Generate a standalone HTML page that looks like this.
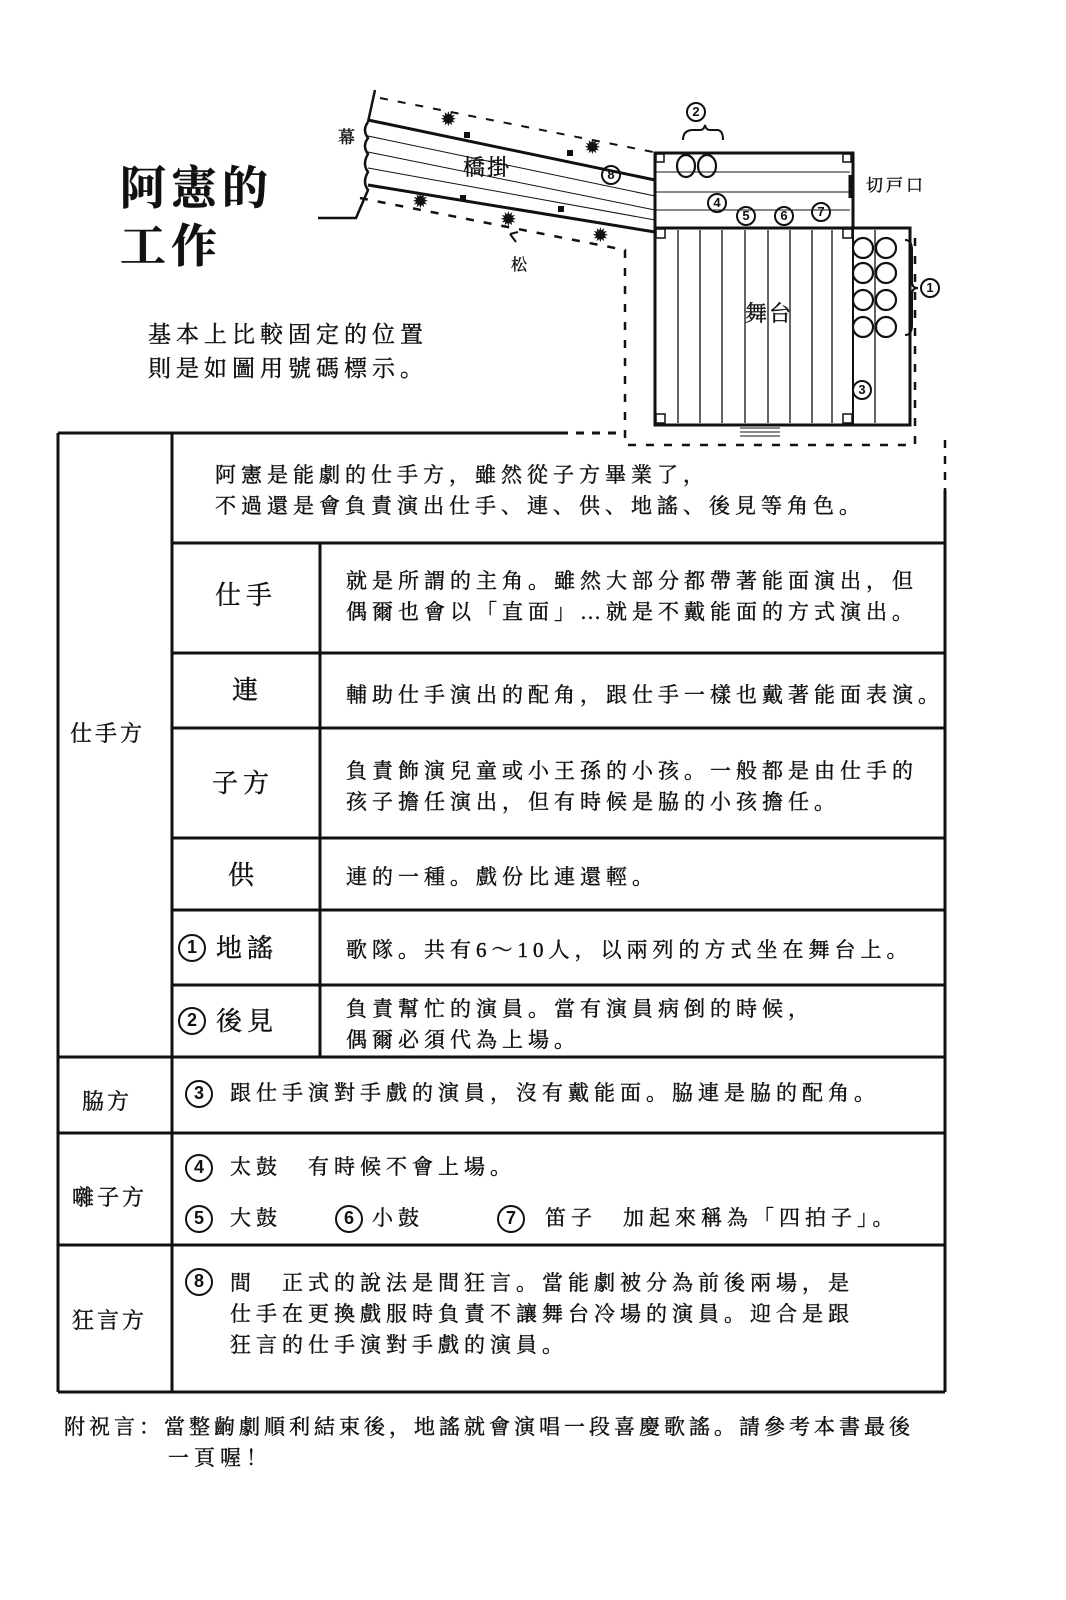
<!DOCTYPE html>
<html><head><meta charset="utf-8"><style>
body{margin:0;background:#fff;}
#c{position:relative;width:1066px;height:1600px;overflow:hidden;font-family:"Liberation Serif","Noto Serif CJK SC","Noto Sans CJK TC",serif;color:#111;}
.t{position:absolute;white-space:nowrap;font-size:21px;letter-spacing:5px;line-height:31px;-webkit-text-stroke:0.4px #111;}
.n{position:absolute;box-sizing:border-box;border:2.5px solid #111;border-radius:50%;text-align:center;font-family:"Liberation Sans",sans-serif;font-weight:bold;}
.b{width:28px;height:28px;line-height:23px;font-size:18px;}
.s{width:20px;height:20px;line-height:16px;font-size:13px;border-width:2px;}
svg{position:absolute;left:0;top:0;}
</style></head><body><div id="c">
<svg width="1066" height="1600" viewBox="0 0 1066 1600" fill="none" stroke="#111">
<path d="M375 90 L368 122 M368 122 Q362 130 368 138 Q362 146 368 154 Q362 164 368 172 Q362 182 368 190 L356 218 L318 218" stroke-width="2.5"/>
<line x1="368" y1="120" x2="655" y2="180" stroke-width="3"/>
<line x1="368" y1="136" x2="655" y2="196"/>
<line x1="368" y1="152" x2="655" y2="210"/>
<line x1="368" y1="168" x2="655" y2="220"/>
<line x1="368" y1="185" x2="655" y2="232" stroke-width="3"/>
<line x1="380" y1="98" x2="653" y2="152" stroke-dasharray="8 10" stroke-width="2"/>
<path d="M360 198 L625 250 L625 445 L915 445 L915 228" stroke-dasharray="8 10" stroke-width="2.5"/>
<rect x="655" y="153" width="198" height="75" stroke-width="3"/>
<line x1="655" y1="172" x2="850" y2="172"/><line x1="655" y1="192" x2="850" y2="192"/><line x1="655" y1="210" x2="850" y2="210"/>
<line x1="851" y1="175" x2="851" y2="198" stroke-width="5"/>
<rect x="655" y="228" width="255" height="197" stroke-width="3"/>
<line x1="853" y1="228" x2="853" y2="425" stroke-width="2"/>
<g stroke-width="1.3"><line x1="678" y1="230" x2="678" y2="423"/><line x1="700" y1="230" x2="700" y2="423"/><line x1="722" y1="230" x2="722" y2="423"/><line x1="745" y1="230" x2="745" y2="423"/><line x1="768" y1="230" x2="768" y2="423"/><line x1="790" y1="230" x2="790" y2="423"/><line x1="812" y1="230" x2="812" y2="423"/><line x1="832" y1="230" x2="832" y2="423"/><line x1="875" y1="230" x2="875" y2="423"/></g>
<g stroke-width="1.5"><rect x="656" y="229" width="9" height="9"/><rect x="843" y="229" width="9" height="9"/><rect x="656" y="414" width="9" height="9"/><rect x="843" y="414" width="9" height="9"/><rect x="656" y="154" width="8" height="8"/><rect x="843" y="154" width="8" height="8"/></g>
<line x1="740" y1="428" x2="780" y2="428"/><line x1="740" y1="432" x2="780" y2="432"/><line x1="740" y1="436" x2="780" y2="436"/>
<g stroke-width="2.2"><ellipse cx="686" cy="166" rx="9" ry="11"/><ellipse cx="707" cy="166" rx="9" ry="11"/>
<circle cx="863" cy="248" r="10"/><circle cx="886" cy="248" r="10"/><circle cx="863" cy="273" r="10"/><circle cx="886" cy="273" r="10"/><circle cx="863" cy="300" r="10"/><circle cx="886" cy="300" r="10"/><circle cx="863" cy="327" r="10"/><circle cx="886" cy="327" r="10"/></g>
<path d="M905 240 Q912 240 912 250 L912 282 Q912 288 918 288 Q912 288 912 294 L912 325 Q912 335 905 335" stroke-width="2"/>
<path d="M683 140 Q683 130 693 130 L700 130 Q704 130 705 125 Q706 130 710 130 L717 130 Q723 130 723 140" stroke-width="2"/>
<g fill="#111" stroke="none" font-size="20"><text x="440" y="126">✹</text><text x="584" y="154">✹</text><text x="412" y="208">✹</text><text x="500" y="226">✹</text><text x="592" y="242">✹</text></g>
<g fill="#111" stroke="none"><rect x="464" y="132" width="6" height="6"/><rect x="567" y="150" width="6" height="6"/><rect x="460" y="195" width="6" height="6"/><rect x="558" y="206" width="6" height="6"/></g>
<path d="M516 242 L510 234 M510 234 L518 232" stroke-width="2"/>
<line x1="58" y1="433" x2="560" y2="433" stroke-width="3"/>
<line x1="560" y1="433" x2="625" y2="433" stroke-dasharray="8 8" stroke-width="3"/>
<line x1="945" y1="440" x2="945" y2="490" stroke-dasharray="8 8" stroke-width="2.5"/>
<g stroke-width="3">
<line x1="58" y1="433" x2="58" y2="1392"/><line x1="172" y1="433" x2="172" y2="1392"/><line x1="945" y1="490" x2="945" y2="1392"/>
<line x1="58" y1="1392" x2="945" y2="1392"/>
<line x1="320" y1="543" x2="320" y2="1057"/>
<line x1="172" y1="543" x2="945" y2="543"/><line x1="172" y1="653" x2="945" y2="653"/><line x1="172" y1="728" x2="945" y2="728"/><line x1="172" y1="838" x2="945" y2="838"/><line x1="172" y1="910" x2="945" y2="910"/><line x1="172" y1="985" x2="945" y2="985"/>
<line x1="58" y1="1057" x2="945" y2="1057"/><line x1="58" y1="1133" x2="945" y2="1133"/><line x1="58" y1="1245" x2="945" y2="1245"/>
</g>
</svg>
<div class="t" style="left:338px;top:122px;font-size:17px;letter-spacing:2px;">幕</div>
<div class="t" style="left:463px;top:152px;font-size:22px;letter-spacing:2px;">橋掛</div>
<div class="n s" style="left:601px;top:165px;">8</div>
<div class="n s" style="left:686px;top:102px;">2</div>
<div class="n s" style="left:707px;top:193px;">4</div>
<div class="n s" style="left:736px;top:206px;">5</div>
<div class="n s" style="left:774px;top:206px;">6</div>
<div class="n s" style="left:811px;top:202px;">7</div>
<div class="n s" style="left:852px;top:380px;">3</div>
<div class="n s" style="left:920px;top:278px;">1</div>
<div class="t" style="left:866px;top:170px;font-size:17px;letter-spacing:3px;">切戸口</div>
<div class="t" style="left:511px;top:250px;font-size:16px;">松</div>
<div class="t" style="left:745px;top:298px;font-size:22px;letter-spacing:2px;">舞台</div>
<div class="t" style="left:120px;top:160px;font-size:46px;font-weight:bold;line-height:58px;letter-spacing:5px;">阿憲的<br>工作</div>
<div class="t" style="left:148px;top:318px;font-size:23px;line-height:34px;letter-spacing:5px;">基本上比較固定的位置<br>則是如圖用號碼標示。</div>
<div class="t" style="left:215px;top:460px;">阿憲是能劇的仕手方，雖然從子方畢業了，<br>不過還是會負責演出仕手、連、供、地謠、後見等角色。</div>
<div class="t" style="left:215px;top:580px;font-size:26px;">仕手</div>
<div class="t" style="left:346px;top:566px;">就是所謂的主角。雖然大部分都帶著能面演出，但<br>偶爾也會以「直面」…就是不戴能面的方式演出。</div>
<div class="t" style="left:232px;top:675px;font-size:26px;">連</div>
<div class="t" style="left:346px;top:680px;">輔助仕手演出的配角，跟仕手一樣也戴著能面表演。</div>
<div class="t" style="left:212px;top:768px;font-size:26px;">子方</div>
<div class="t" style="left:346px;top:756px;">負責飾演兒童或小王孫的小孩。一般都是由仕手的<br>孩子擔任演出，但有時候是脇的小孩擔任。</div>
<div class="t" style="left:228px;top:860px;font-size:26px;">供</div>
<div class="t" style="left:346px;top:862px;">連的一種。戲份比連還輕。</div>
<div class="n b" style="left:178px;top:934px;">1</div>
<div class="t" style="left:216px;top:933px;font-size:26px;">地謠</div>
<div class="t" style="left:346px;top:935px;">歌隊。共有6～10人，以兩列的方式坐在舞台上。</div>
<div class="n b" style="left:178px;top:1007px;">2</div>
<div class="t" style="left:216px;top:1006px;font-size:26px;">後見</div>
<div class="t" style="left:346px;top:994px;">負責幫忙的演員。當有演員病倒的時候，<br>偶爾必須代為上場。</div>
<div class="t" style="left:70px;top:718px;font-size:22px;letter-spacing:3px;">仕手方</div>
<div class="t" style="left:82px;top:1086px;font-size:22px;letter-spacing:3px;">脇方</div>
<div class="t" style="left:72px;top:1182px;font-size:22px;letter-spacing:3px;">囃子方</div>
<div class="t" style="left:72px;top:1305px;font-size:22px;letter-spacing:3px;">狂言方</div>
<div class="n b" style="left:185px;top:1080px;">3</div>
<div class="t" style="left:230px;top:1078px;">跟仕手演對手戲的演員，沒有戴能面。脇連是脇的配角。</div>
<div class="n b" style="left:185px;top:1154px;">4</div>
<div class="t" style="left:230px;top:1152px;">太鼓　有時候不會上場。</div>
<div class="n b" style="left:185px;top:1205px;">5</div>
<div class="t" style="left:230px;top:1203px;">大鼓</div>
<div class="n b" style="left:335px;top:1205px;">6</div>
<div class="t" style="left:372px;top:1203px;">小鼓</div>
<div class="n b" style="left:497px;top:1205px;">7</div>
<div class="t" style="left:545px;top:1203px;">笛子　加起來稱為「四拍子」。</div>
<div class="n b" style="left:185px;top:1268px;">8</div>
<div class="t" style="left:230px;top:1268px;">間　正式的說法是間狂言。當能劇被分為前後兩場，是<br>仕手在更換戲服時負責不讓舞台冷場的演員。迎合是跟<br>狂言的仕手演對手戲的演員。</div>
<div class="t" style="left:64px;top:1412px;letter-spacing:4px;">附祝言：當整齣劇順利結束後，地謠就會演唱一段喜慶歌謠。請參考本書最後</div>
<div class="t" style="left:168px;top:1443px;">一頁喔！</div>
</div></body></html>
